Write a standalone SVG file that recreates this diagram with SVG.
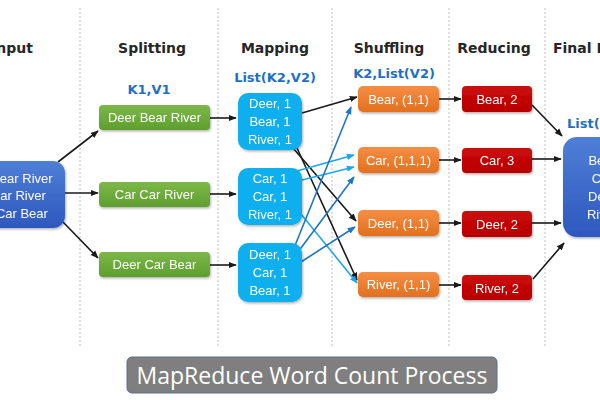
<svg xmlns="http://www.w3.org/2000/svg" width="600" height="400" viewBox="0 0 600 400">
<defs>
<style>
.hdr{font-family:"DejaVu Sans",Verdana,sans-serif;font-weight:bold;font-size:14px;fill:#262626}
.lbl{font-family:"DejaVu Sans",Verdana,sans-serif;font-weight:bold;font-size:13px;fill:#1F6FC5}
.t{font-family:"Liberation Sans",Arial,sans-serif;font-size:13px;fill:#fff;text-anchor:middle}
.sep{stroke:#bdbdbd;stroke-width:1;stroke-dasharray:2,2}
.k{stroke:#1a1a1a;stroke-width:1.6;fill:none;marker-end:url(#ak)}
.lb{stroke:#1EA7E8;stroke-width:1.6;fill:none;marker-end:url(#alb)}
.db{stroke:#1F74C6;stroke-width:1.6;fill:none;marker-end:url(#adb)}
</style>
<marker id="ak" viewBox="0 0 10 10" refX="9" refY="5" markerWidth="5" markerHeight="5" orient="auto"><path d="M0,1 L10,5 L0,9 z" fill="#1a1a1a"/></marker>
<marker id="alb" viewBox="0 0 10 10" refX="9" refY="5" markerWidth="5" markerHeight="5" orient="auto"><path d="M0,1 L10,5 L0,9 z" fill="#1EA7E8"/></marker>
<marker id="adb" viewBox="0 0 10 10" refX="9" refY="5" markerWidth="5" markerHeight="5" orient="auto"><path d="M0,1 L10,5 L0,9 z" fill="#1F74C6"/></marker>
<linearGradient id="gBlue" x1="0" y1="0" x2="0" y2="1"><stop offset="0" stop-color="#4F7FD6"/><stop offset="1" stop-color="#2D58BE"/></linearGradient>
<linearGradient id="gGreen" x1="0" y1="0" x2="0" y2="1"><stop offset="0" stop-color="#7DB84A"/><stop offset="1" stop-color="#5E9E2E"/></linearGradient>
<linearGradient id="gOrange" x1="0" y1="0" x2="0" y2="1"><stop offset="0" stop-color="#F58E45"/><stop offset="1" stop-color="#E2701F"/></linearGradient>
<linearGradient id="gRed" x1="0" y1="0" x2="0" y2="1"><stop offset="0" stop-color="#CC0A0A"/><stop offset="1" stop-color="#B80000"/></linearGradient>
<filter id="sh" x="-20%" y="-20%" width="140%" height="150%"><feDropShadow dx="1" dy="1.5" stdDeviation="1" flood-color="#000" flood-opacity="0.3"/></filter>
</defs>
<rect width="600" height="400" fill="#fff"/>
<g id="separators">
<line class="sep" x1="80" y1="8" x2="80" y2="348"/>
<line class="sep" x1="218" y1="8" x2="218" y2="348"/>
<line class="sep" x1="332" y1="8" x2="332" y2="348"/>
<line class="sep" x1="449" y1="8" x2="449" y2="348"/>
<line class="sep" x1="545" y1="8" x2="545" y2="348"/>
</g>
<g id="headers">
<text class="hdr" x="33" y="53" text-anchor="end">Input</text>
<text class="hdr" x="152" y="53" text-anchor="middle">Splitting</text>
<text class="hdr" x="275" y="53" text-anchor="middle">Mapping</text>
<text class="hdr" x="389" y="53" text-anchor="middle">Shuffling</text>
<text class="hdr" x="494" y="53" text-anchor="middle">Reducing</text>
<text class="hdr" x="553" y="53">Final Result</text>
<text class="lbl" x="149" y="94" text-anchor="middle">K1,V1</text>
<text class="lbl" x="275" y="82" text-anchor="middle">List(K2,V2)</text>
<text class="lbl" x="394" y="78" text-anchor="middle">K2,List(V2)</text>
<text class="lbl" x="567" y="128">List(K3,V3)</text>
</g>
<g id="connectors">
<path class="k" d="M58,162 L98,131"/>
<path class="k" d="M65,193 L98,193"/>
<path class="k" d="M63,222 L98,258"/>
<path class="k" d="M210,118 L236,118"/>
<path class="k" d="M210,194 L236,194"/>
<path class="k" d="M210,265 L236,265"/>
<path class="k" d="M302,113 L357,97"/>
<path class="k" d="M293,148 L356,221"/>
<path class="k" d="M297,148 L357,280"/>
<path class="lb" d="M297,171 L354,155"/>
<path class="lb" d="M302,180 L354,167"/>
<path class="lb" d="M301,214 L357,283"/>
<path class="db" d="M294,248 L351,107"/>
<path class="db" d="M298,252 L354,177"/>
<path class="db" d="M301,262 L355,227"/>
<path class="k" d="M439,99 L461,99"/>
<path class="k" d="M439,160 L461,160"/>
<path class="k" d="M439,223 L461,223"/>
<path class="k" d="M439,285 L461,285"/>
<path class="k" d="M532,105 L562,136"/>
<path class="k" d="M532,159 L561,159"/>
<path class="k" d="M532,223 L561,223"/>
<path class="k" d="M533,279 L564,243"/>
</g>
<g id="input" filter="url(#sh)">
<rect x="-55" y="161" width="120" height="67" rx="12" fill="url(#gBlue)"/>
<text class="t" x="6" y="183">Deer Bear River</text>
<text class="t" x="6" y="200">Car Car River</text>
<text class="t" x="6" y="218">Deer Car Bear</text>
</g>
<g id="split1" filter="url(#sh)"><rect x="99" y="105" width="111" height="25" rx="4" fill="url(#gGreen)"/><text class="t" x="154.5" y="122">Deer Bear River</text></g>
<g id="split2" filter="url(#sh)"><rect x="99" y="182" width="111" height="25" rx="4" fill="url(#gGreen)"/><text class="t" x="154.5" y="199">Car Car River</text></g>
<g id="split3" filter="url(#sh)"><rect x="99" y="252" width="111" height="25" rx="4" fill="url(#gGreen)"/><text class="t" x="154.5" y="269">Deer Car Bear</text></g>
<g id="map1" filter="url(#sh)"><rect x="238" y="93" width="64" height="57" rx="10" fill="#0AAFEF"/>
<text class="t" x="270" y="108">Deer, 1</text><text class="t" x="270" y="126">Bear, 1</text><text class="t" x="270" y="144">River, 1</text></g>
<g id="map2" filter="url(#sh)"><rect x="238" y="168" width="64" height="57" rx="10" fill="#0AAFEF"/>
<text class="t" x="270" y="183">Car, 1</text><text class="t" x="270" y="201">Car, 1</text><text class="t" x="270" y="219">River, 1</text></g>
<g id="map3" filter="url(#sh)"><rect x="238" y="243" width="64" height="59" rx="10" fill="#0AAFEF"/>
<text class="t" x="270" y="259">Deer, 1</text><text class="t" x="270" y="277">Car, 1</text><text class="t" x="270" y="295">Bear, 1</text></g>
<g id="shuf1" filter="url(#sh)"><rect x="358" y="86" width="81" height="26" rx="5" fill="url(#gOrange)"/><text class="t" x="398.5" y="104">Bear, (1,1)</text></g>
<g id="shuf2" filter="url(#sh)"><rect x="358" y="147" width="81" height="26" rx="5" fill="url(#gOrange)"/><text class="t" x="398.5" y="165">Car, (1,1,1)</text></g>
<g id="shuf3" filter="url(#sh)"><rect x="358" y="210" width="81" height="26" rx="5" fill="url(#gOrange)"/><text class="t" x="398.5" y="228">Deer, (1,1)</text></g>
<g id="shuf4" filter="url(#sh)"><rect x="358" y="272" width="81" height="25" rx="5" fill="url(#gOrange)"/><text class="t" x="398.5" y="289">River, (1,1)</text></g>
<g id="red1" filter="url(#sh)"><rect x="462" y="86" width="70" height="26" rx="4" fill="url(#gRed)"/><text class="t" x="497" y="104">Bear, 2</text></g>
<g id="red2" filter="url(#sh)"><rect x="462" y="148" width="70" height="25" rx="4" fill="url(#gRed)"/><text class="t" x="497" y="165">Car, 3</text></g>
<g id="red3" filter="url(#sh)"><rect x="462" y="211" width="70" height="26" rx="4" fill="url(#gRed)"/><text class="t" x="497" y="229">Deer, 2</text></g>
<g id="red4" filter="url(#sh)"><rect x="462" y="275" width="70" height="25" rx="4" fill="url(#gRed)"/><text class="t" x="497" y="293">River, 2</text></g>
<g id="final" filter="url(#sh)">
<rect x="563" y="137" width="100" height="100" rx="14" fill="url(#gBlue)"/>
<text class="t" x="609" y="165">Bear, 2</text>
<text class="t" x="609" y="183">Car, 3</text>
<text class="t" x="609" y="201">Deer, 2</text>
<text class="t" x="609" y="219">River, 2</text>
</g>
<g id="title">
<rect x="127" y="357" width="370" height="36" rx="5" fill="#7F7F7F" stroke="#5B6E8C" stroke-width="1"/>
<text x="312" y="384" text-anchor="middle" font-family="'Open Sans','Noto Sans',sans-serif" font-size="23" fill="#fff">MapReduce Word Count Process</text>
</g>
</svg>
